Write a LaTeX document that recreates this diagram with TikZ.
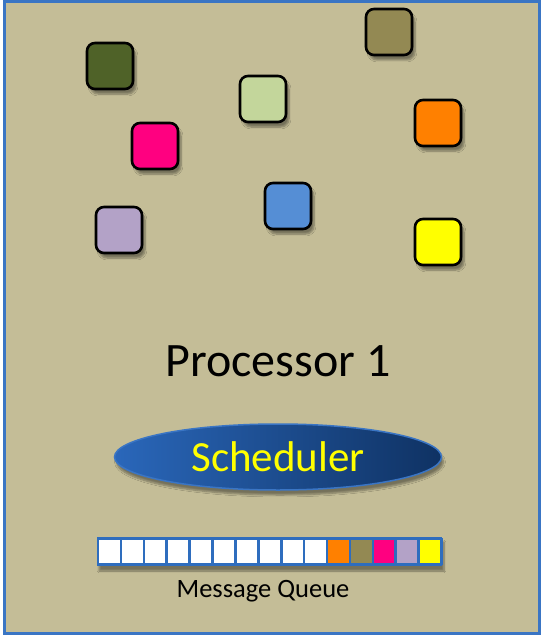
\documentclass[tikz,border=0pt]{standalone}
\usepackage{fontspec}
\setmainfont{Carlito}
\usetikzlibrary{shapes.geometric,shadows.blur}

\definecolor{panel}{HTML}{C4BD97}
\definecolor{frameblue}{HTML}{3A75C4}
\definecolor{qblue}{HTML}{2E6DBE}
\definecolor{darkgreen}{HTML}{4F6228}
\definecolor{olive}{HTML}{938953}
\definecolor{palegreen}{HTML}{C3D69B}
\definecolor{actorange}{HTML}{FF8000}
\definecolor{actpink}{HTML}{FF0080}
\definecolor{actblue}{HTML}{558ED5}
\definecolor{lavender}{HTML}{B3A2C7}
\definecolor{actyellow}{HTML}{FFFF00}
\definecolor{schedleft}{HTML}{2A67BA}
\definecolor{schedright}{HTML}{0F3263}

\tikzset{
  actor/.style={draw=black, line width=2.6pt, rounded corners=8pt, minimum size=46pt, inner sep=0pt,
    blur shadow={shadow xshift=3pt, shadow yshift=-5pt, shadow blur steps=6}},
  slot/.style={draw=qblue, line width=2.6pt, minimum width=22.9pt, minimum height=25pt, inner sep=0pt},
}

\begin{document}
\begin{tikzpicture}[x=1pt,y=-1pt]
\useasboundingbox (0,0) rectangle (544,639);
\draw[frameblue, line width=3pt, fill=panel] (4,1.5) rectangle (539,633);

% actors
\node[actor, fill=darkgreen] (green) at (110,66) {};
\node[actor, fill=olive] (olive) at (389,32) {};
\node[actor, fill=palegreen] (pale) at (263,99) {};
\node[actor, fill=actorange] (orange) at (438,123) {};
\node[actor, fill=actpink] (pink) at (155,146) {};
\node[actor, fill=actblue] (blue) at (288,206) {};
\node[actor, fill=lavender] (lav) at (119,230) {};
\node[actor, fill=actyellow] (yellow) at (438,242) {};

\node[font=\fontsize{48}{52}\selectfont] (proc) at (278,361) {Processor 1};

\node[ellipse, draw=frameblue, line width=1.5pt, left color=schedleft, right color=schedright,
  minimum width=327pt, minimum height=66pt, inner sep=0pt,
  blur shadow={shadow xshift=2pt, shadow yshift=-5pt, shadow blur steps=6},
  text=actyellow, font=\fontsize{43}{46}\selectfont] (sched) at (278,457) {Scheduler};

% message queue
\fill[qblue, blur shadow={shadow xshift=2pt, shadow yshift=-5pt, shadow blur steps=6}] (97,537) rectangle (442,566);
\foreach \c [count=\i] in {white,white,white,white,white,white,white,white,white,white,actorange,olive,actpink,lavender,actyellow}
  \node[slot, fill=\c] (q\i) at ({109.5+(\i-1)*22.9},551.5) {};

\node[font=\fontsize{26.5}{29}\selectfont] (mqlabel) at (263,591) {Message Queue};
\end{tikzpicture}
\end{document}
